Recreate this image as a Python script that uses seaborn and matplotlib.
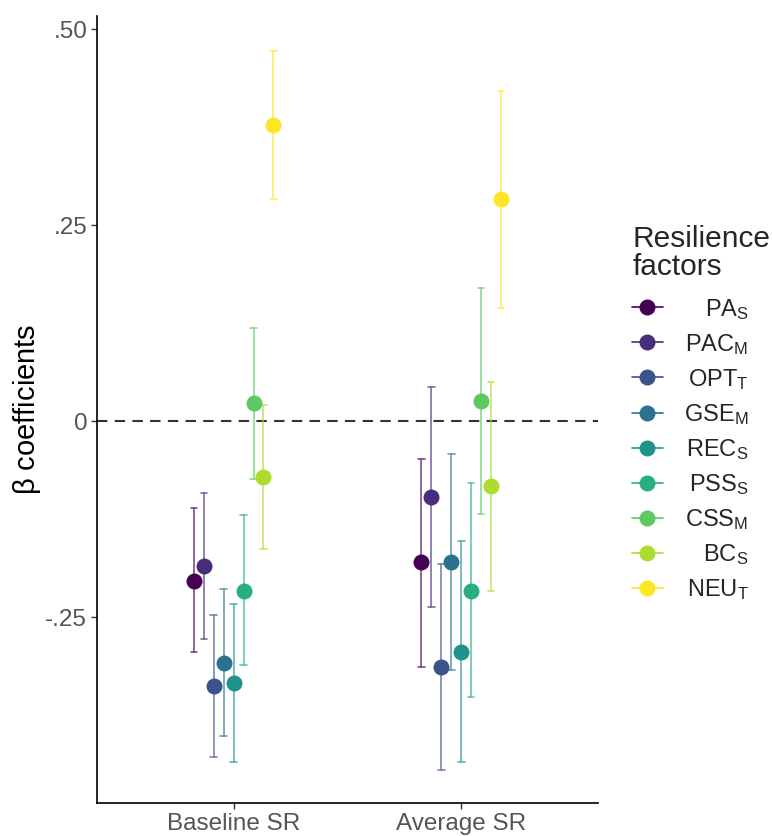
import numpy as np
import pandas as pd
import matplotlib
matplotlib.use("Agg")
import matplotlib.pyplot as plt
from matplotlib.lines import Line2D
import seaborn as sns

outcomes = ["Baseline SR", "Average SR"]
factors = ["PA_S", "PAC_M", "OPT_T", "GSE_M", "REC_S", "PSS_S", "CSS_M", "BC_S", "NEU_T"]
factor_labels = [r"PA$_\mathregular{S}$", r"PAC$_\mathregular{M}$", r"OPT$_\mathregular{T}$",
                 r"GSE$_\mathregular{M}$", r"REC$_\mathregular{S}$", r"PSS$_\mathregular{S}$",
                 r"CSS$_\mathregular{M}$", r"BC$_\mathregular{S}$", r"NEU$_\mathregular{T}$"]

# beta estimates and 95% CI
baseline_est = [-0.204, -0.185, -0.338, -0.308, -0.334, -0.216, 0.023, -0.071, 0.378]
baseline_lo = [-0.295, -0.278, -0.428, -0.402, -0.435, -0.311, -0.074, -0.163, 0.283]
baseline_hi = [-0.111, -0.091, -0.247, -0.214, -0.233, -0.120, 0.119, 0.021, 0.472]

average_est = [-0.180, -0.097, -0.313, -0.179, -0.294, -0.216, 0.026, -0.083, 0.283]
average_lo = [-0.313, -0.237, -0.445, -0.318, -0.435, -0.352, -0.118, -0.216, 0.144]
average_hi = [-0.048, 0.044, -0.182, -0.042, -0.153, -0.079, 0.170, 0.050, 0.421]

ytick_vals = [-0.25, 0, 0.25, 0.50]
ytick_labels = ["-.25", "0", ".25", ".50"]

# long table: lo / est / hi rows so pointplot can draw point + interval
rows = []
for outcome, est, lo, hi in [(outcomes[0], baseline_est, baseline_lo, baseline_hi),
                             (outcomes[1], average_est, average_lo, average_hi)]:
    for f, e, l, h in zip(factors, est, lo, hi):
        for v in (l, e, h):
            rows.append({"outcome": outcome, "factor": f, "beta": v})
df = pd.DataFrame(rows)

sns.set_theme(style="white")
plt.rcParams["font.family"] = ["Liberation Sans", "DejaVu Sans"]
plt.rcParams["mathtext.default"] = "regular"

colors = [matplotlib.colormaps["viridis"](x) for x in np.linspace(0, 1, 9)]
palette = dict(zip(factors, colors))

fig = plt.figure(figsize=(7.72, 8.36), dpi=100)
ax = fig.add_axes([0.1256, 0.0395, 0.6490, 0.9415])

ax.axhline(0, color="#333333", lw=1.5, ls=(0, (5, 3.5)), zorder=1)

sns.pointplot(data=df, x="outcome", y="beta", hue="factor", order=outcomes,
              hue_order=factors, palette=palette, estimator="median",
              errorbar=lambda x: (x.min(), x.max()), dodge=0.35,
              capsize=0.028, linestyle="none", markersize=11.5,
              markeredgewidth=0, legend=False,
              err_kws={"linewidth": 1.2, "alpha": 0.7, "zorder": 2},
              zorder=3, ax=ax)

ax.set_xlim(-0.6, 1.6)
ax.set_ylim(-0.487, 0.517)
ax.set_yticks(ytick_vals)
ax.set_yticklabels(ytick_labels)
ax.set_xlabel("")
ax.set_ylabel(r"$\beta$ coefficients", fontsize=21, color="black", labelpad=2)
ax.tick_params(axis="both", labelsize=17.5, labelcolor="#555555", color="#333333",
               length=4, width=1, left=True, bottom=True, pad=3)
sns.despine(ax=ax)
for s in ["left", "bottom"]:
    ax.spines[s].set_color("black")
    ax.spines[s].set_linewidth(1.2)

handles = [Line2D([0], [0], color=c, marker="o", markersize=11.5, markeredgewidth=0,
                  lw=1.2) for c in colors]
leg = fig.legend(handles, factor_labels, title="Resilience\nfactors",
                 loc="upper left", bbox_to_anchor=(0.7913, 0.7564), frameon=False,
                 fontsize=17, title_fontsize=21.5, handlelength=1.3,
                 labelspacing=0.43, handletextpad=0.9, alignment="left")
plt.setp(leg.get_title(), linespacing=1.0)
leg._legend_box.sep = 0.43 * 17 + 4

# right-align the legend labels like the reference
fig.canvas.draw()
renderer = fig.canvas.get_renderer()
widths = [t.get_window_extent(renderer).width for t in leg.get_texts()]
shift = max(widths)
for t, w in zip(leg.get_texts(), widths):
    t.set_position((shift - w, 0))

fig.savefig("out.png", dpi=100)
